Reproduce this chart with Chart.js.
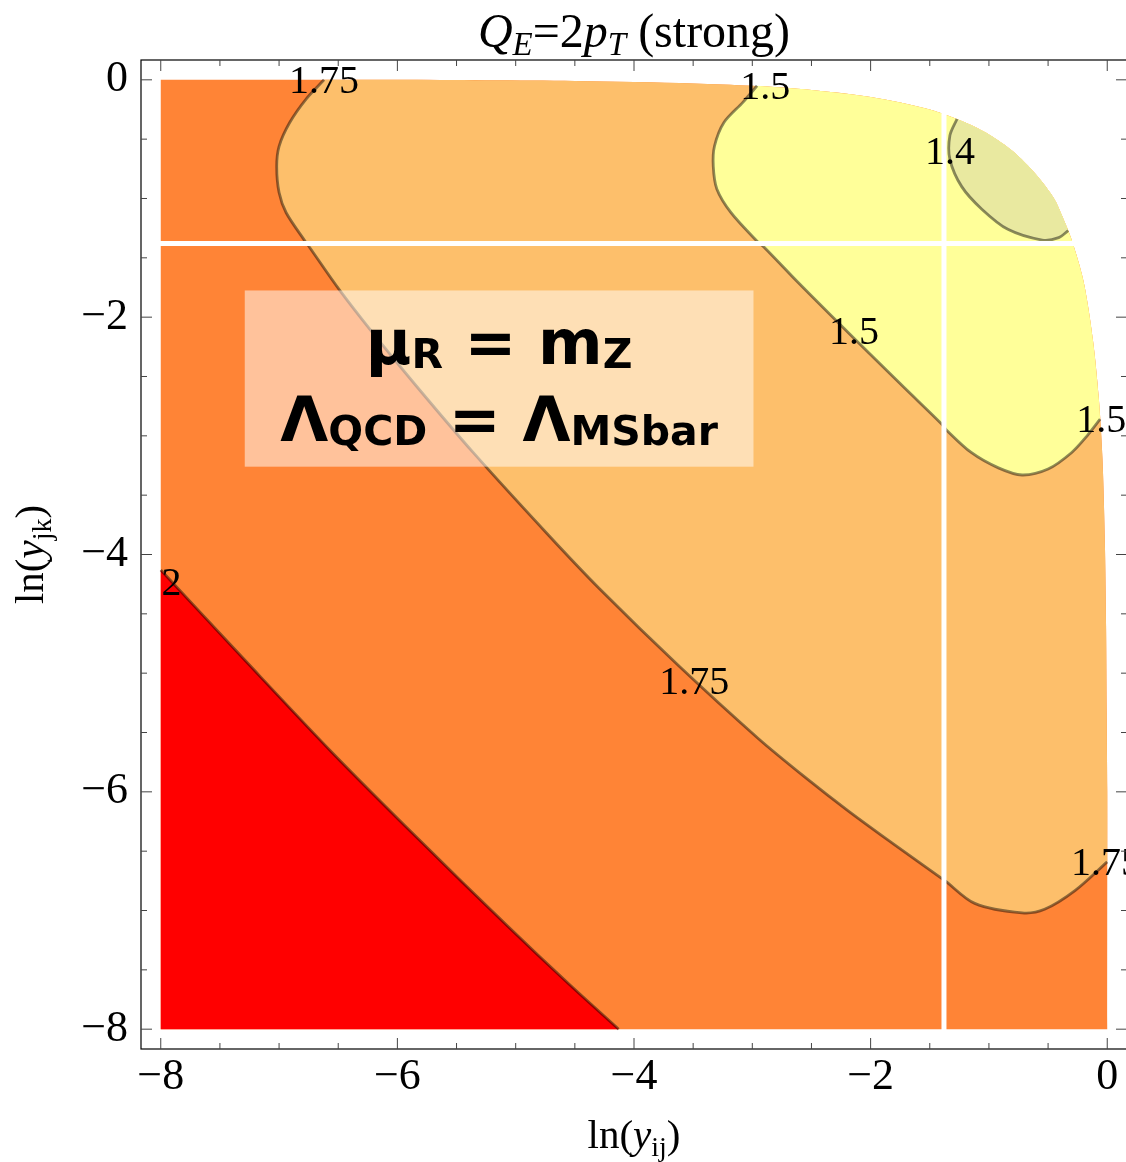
<!DOCTYPE html>
<html>
<head>
<meta charset="utf-8">
<script src="https://cdn.jsdelivr.net/npm/chart.js@4"></script>
<style>
  html, body { margin: 0; padding: 0; background: #fff; overflow: hidden; }
  #wrap { width: 1126px; height: 1162px; overflow: hidden; }
</style>
</head>
<body>
<div id="wrap"><canvas id="chartjs" width="1130" height="1162"></canvas></div>
<script>
// outer edge of the allowed region (top-left -> bottom-right)
var edgeX = [-8, -6, -4.5, -3.5, -3.0, -2.5, -2.0, -1.5, -1.2, -1.0, -0.8, -0.6, -0.45, -0.38, -0.3, -0.2, -0.12, -0.07, -0.04, -0.02, -0.01, -0.005, 0, 0];
var edgeY = [0, 0, -0.01, -0.03, -0.05, -0.085, -0.145, -0.25, -0.36, -0.46, -0.6, -0.8, -1.0, -1.15, -1.35, -1.7, -2.2, -2.7, -3.2, -3.9, -4.6, -5.3, -6.0, -8];

// contour lines
var c2X = [-8, -7.28, -6.55, -5.82, -5.08, -4.55, -4.13];
var c2Y = [-4.13, -4.90, -5.67, -6.40, -7.12, -7.62, -8];

var c175X = [-6.62, -6.77, -6.91, -7.0, -7.02, -7.0, -6.94, -6.78, -6.74, -6.49, -6.21, -5.84, -5.36, -4.72, -4.30, -3.62, -2.95, -2.55, -2.19, -1.82, -1.40, -1.37, -1.12, -0.72, -0.53, -0.27, 0];
var c175Y = [0, -0.16, -0.36, -0.56, -0.73, -0.95, -1.12, -1.36, -1.415, -1.77, -2.13, -2.58, -3.14, -3.84, -4.28, -4.94, -5.55, -5.88, -6.16, -6.43, -6.73, -6.75, -6.94, -7.02, -6.99, -6.83, -6.59];

var c15X = [-2.96, -3.08, -3.24, -3.32, -3.33, -3.30, -3.18, -2.96, -2.90, -2.61, -2.33, -1.96, -1.71, -1.40, -1.36, -1.15, -0.92, -0.72, -0.50, -0.30, -0.17, -0.06];
var c15Y = [-0.05, -0.19, -0.36, -0.56, -0.73, -0.92, -1.12, -1.36, -1.41, -1.71, -1.99, -2.355, -2.60, -2.90, -2.95, -3.14, -3.27, -3.33, -3.28, -3.14, -3.00, -2.86];

var c14X = [-1.27, -1.33, -1.33, -1.23, -1.06, -0.84, -0.55, -0.41, -0.33];
var c14Y = [-0.33, -0.47, -0.67, -0.90, -1.09, -1.26, -1.35, -1.33, -1.27];

// white gaps in the mesh
var gapV = -1.38;
var gapH = -1.38;

// contour labels
var labelText = ['1.75', '1.5', '1.4', '1.5', '1.5', '1.75', '1.75', '2'];
var labelX = [-6.62, -2.89, -1.33, -2.14, -0.05, -3.49, -0.01, -7.91];
var labelY = [0.0, -0.05, -0.60, -2.12, -2.86, -5.07, -6.59, -4.23];

// text box corners
var noteX = [-7.29, -2.99];
var noteY = [-1.775, -3.26];

function pts(xs, ys) {
  return xs.map(function (x, i) { return {x: x, y: ys[i]}; });
}
var edge = pts(edgeX, edgeY);

// edge points between two contour ends, walked back towards the top
function edgeInside(xStart, yEnd) {
  return edge.filter(function (p) { return p.x > xStart + 1e-9 && p.y > yEnd + 1e-9; }).reverse();
}
function region(cx, cy) {
  var c = pts(cx, cy);
  var first = c[0], last = c[c.length - 1];
  return c.concat([{x: last.x, y: last.y}], edgeInside(first.x, last.y), [{x: first.x, y: first.y}]);
}

var domainPts = edge.concat([{x: 0, y: -8}, {x: -8, y: -8}, {x: -8, y: -8}]);
var redPts = pts(c2X, c2Y).concat([{x: -4.13, y: -8}, {x: -8, y: -8}, {x: -8, y: -8}]);

function area(data, color, order) {
  return {data: data, showLine: true, fill: 'shape', indexAxis: 'y', backgroundColor: color,
    borderColor: 'transparent', borderWidth: 0, pointRadius: 0, tension: 0.3, order: order};
}
function contour(xs, ys) {
  return {data: pts(xs, ys), showLine: true, fill: false, borderColor: 'rgba(0,0,0,0.45)',
    borderWidth: 2.8, pointRadius: 0, tension: 0.3, order: 2};
}
function gap(data) {
  return {data: data, showLine: true, fill: false, borderColor: '#ffffff', borderWidth: 5,
    pointRadius: 0, tension: 0.01, order: 1};
}

var serif = '"Liberation Serif", "Times New Roman", serif';

function fmt(v) {
  if (Math.abs(v % 2) > 1e-6) return '';
  return (v < 0 ? '\u2212' : '') + Math.abs(v);
}

function richText(ctx, parts, cx, y) {
  var w = 0;
  parts.forEach(function (p) { ctx.font = p[1]; w += ctx.measureText(p[0]).width; });
  var x = cx - w / 2;
  ctx.textAlign = 'left';
  ctx.textBaseline = 'alphabetic';
  parts.forEach(function (p) {
    ctx.font = p[1];
    ctx.fillText(p[0], x, y + p[2]);
    x += ctx.measureText(p[0]).width;
  });
}

var decor = {
  id: 'decor',
  afterDatasetsDraw: function (chart) {
    var ctx = chart.ctx, xs = chart.scales.x, ys = chart.scales.y;
    ctx.save();
    var bx0 = xs.getPixelForValue(noteX[0]), bx1 = xs.getPixelForValue(noteX[1]);
    var by0 = ys.getPixelForValue(noteY[0]), by1 = ys.getPixelForValue(noteY[1]);
    ctx.fillStyle = 'rgba(255,255,255,0.5)';
    ctx.fillRect(bx0, by0, bx1 - bx0, by1 - by0);
    ctx.fillStyle = '#000';
    var big = 'bold 62px "DejaVu Sans"', small = 'bold 41px "DejaVu Sans"';
    richText(ctx, [['\u03bc', big, 0], ['R', small, 4], [' = m', big, 0], ['Z', small, 4]], (bx0 + bx1) / 2, by0 + 74);
    richText(ctx, [['\u039b', big, 0], ['QCD', small, 4], [' = \u039b', big, 0], ['MSbar', small, 4]], (bx0 + bx1) / 2, by0 + 151);

    ctx.font = '40px ' + serif;
    ctx.textAlign = 'center';
    ctx.textBaseline = 'alphabetic';
    labelText.forEach(function (t, i) {
      ctx.fillText(t, xs.getPixelForValue(labelX[i]), ys.getPixelForValue(labelY[i]) + 13);
    });
    ctx.restore();
  },
  afterDraw: function (chart) {
    var ctx = chart.ctx, a = chart.chartArea, xs = chart.scales.x, ys = chart.scales.y;
    ctx.save();
    ctx.strokeStyle = '#000';
    ctx.lineWidth = 1.2;
    ctx.strokeRect(a.left, a.top, a.right - a.left, a.bottom - a.top);
    ctx.lineWidth = 1;
    ctx.strokeStyle = '#444';
    ctx.beginPath();
    for (var v = -8; v <= 0.001; v += 0.5) {
      var len = Math.abs(v % 2) < 1e-6 ? 11 : 6;
      var px = xs.getPixelForValue(v), py = ys.getPixelForValue(v);
      ctx.moveTo(px, a.bottom); ctx.lineTo(px, a.bottom - len);
      ctx.moveTo(px, a.top); ctx.lineTo(px, a.top + len);
      ctx.moveTo(a.left, py); ctx.lineTo(a.left + len, py);
      ctx.moveTo(a.right, py); ctx.lineTo(a.right - len, py);
    }
    ctx.stroke();

    ctx.fillStyle = '#000';
    var cx = (a.left + a.right) / 2;
    var t = '48px ' + serif, ti = 'italic 48px ' + serif, tsi = 'italic 33px ' + serif;
    richText(ctx, [['Q', ti, 0], ['E', tsi, 8], ['=2', t, 0], ['p', ti, 0], ['T', tsi, 8], [' (strong)', t, 0]], cx, 47);
    var f = '41px ' + serif, fi = 'italic 41px ' + serif, fs = '28px ' + serif;
    richText(ctx, [['ln(', f, 0], ['y', fi, 0], ['ij', fs, 8], [')', f, 0]], cx, 1148);
    ctx.translate(43, (a.top + a.bottom) / 2);
    ctx.rotate(-Math.PI / 2);
    richText(ctx, [['ln(', f, 0], ['y', fi, 0], ['jk', fs, 8], [')', f, 0]], 0, 0);
    ctx.restore();
  }
};

new Chart(document.getElementById('chartjs'), {
  type: 'scatter',
  data: {
    datasets: [
      gap([{x: gapV, y: 0.05}, {x: gapV, y: -8.02}]),
      gap([{x: -8.02, y: gapH}, {x: 0.05, y: gapH}]),
      contour(c14X, c14Y),
      contour(c15X, c15Y),
      contour(c175X, c175Y),
      contour(c2X, c2Y),
      area(region(c14X, c14Y), '#E9E9A0', 3),
      area(region(c15X, c15Y), '#FFFF99', 4),
      area(region(c175X, c175Y), '#FDBF6B', 5),
      area(redPts, '#FF0000', 6),
      area(domainPts, '#FF8436', 7)
    ]
  },
  options: {
    responsive: false,
    animation: false,
    devicePixelRatio: 1,
    layout: {padding: {left: 0, top: 60, right: 3, bottom: 0}},
    plugins: {legend: {display: false}, tooltip: {enabled: false}},
    scales: {
      x: {
        type: 'linear', min: -8.167, max: 0.167,
        grid: {display: false, drawTicks: false}, border: {display: false},
        afterFit: function (s) { s.height = 113; },
        ticks: {stepSize: 0.5, includeBounds: false, autoSkip: false, maxRotation: 0, padding: 2,
          color: '#000', font: {family: serif, size: 44}, callback: fmt}
      },
      y: {
        type: 'linear', min: -8.167, max: 0.167,
        grid: {display: false, drawTicks: false}, border: {display: false},
        afterFit: function (s) { s.width = 141; },
        ticks: {stepSize: 0.5, includeBounds: false, autoSkip: false, padding: 13,
          color: '#000', font: {family: serif, size: 44}, callback: fmt}
      }
    }
  },
  plugins: [decor]
});
</script>
</body>
</html>
